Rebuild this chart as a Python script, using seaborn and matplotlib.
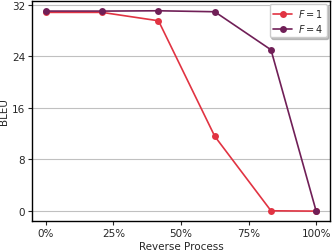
import numpy as np
import pandas as pd
import matplotlib
matplotlib.use('Agg')
import matplotlib.pyplot as plt
import seaborn as sns
from matplotlib.ticker import PercentFormatter

# данні
reverse = [0.0, 0.208, 0.417, 0.625, 0.833, 1.0]
bleu_f1 = [30.8, 30.8, 29.5, 11.6, 0.05, 0.0]
bleu_f4 = [31.0, 31.0, 31.05, 30.9, 25.0, 0.0]
labels = ['$F = 1$', '$F = 4$']
colors = ['#e13342', '#701f57']

df = pd.DataFrame({
    'x': reverse * 2,
    'y': bleu_f1 + bleu_f4,
    'F': [labels[0]] * len(reverse) + [labels[1]] * len(reverse),
})

sns.set_style('ticks')
plt.rcParams['font.family'] = ['DejaVu Sans']
plt.rcParams['font.size'] = 7.5

fig, ax = plt.subplots(figsize=(3.32, 2.51), dpi=100)
sns.lineplot(data=df, x='x', y='y', hue='F', palette=colors, marker='o',
             markersize=5, markeredgewidth=0, linewidth=1.2, ax=ax)

ax.set_yticks([0, 8, 16, 24, 32])
ax.set_xticks([0, 0.25, 0.5, 0.75, 1.0])
ax.xaxis.set_major_formatter(PercentFormatter(1.0, decimals=0))
ax.yaxis.grid(True, color='#c0c0c0', linewidth=0.8)
ax.set_axisbelow(True)
ax.set_xlabel('Reverse Process', fontsize=7.5, labelpad=2)
ax.set_ylabel('BLEU', fontsize=7.5, labelpad=2)
ax.tick_params(labelsize=7.5, length=3, width=0.8, pad=2)
for s in ax.spines.values():
    s.set_linewidth(1.0)
    s.set_color('black')
ax.legend(loc='upper right', shadow={'color': '0.6', 'alpha': 0.6, 'ox': 1.5, 'oy': -1.5},
          fancybox=True, framealpha=1, fontsize=7, borderpad=0.35,
          labelspacing=0.3, handlelength=2.0, handletextpad=0.6,
          borderaxespad=0.3, edgecolor='#cccccc')

plt.subplots_adjust(left=0.097, right=0.993, top=0.993, bottom=0.115)
plt.savefig('out.png', dpi=100)
